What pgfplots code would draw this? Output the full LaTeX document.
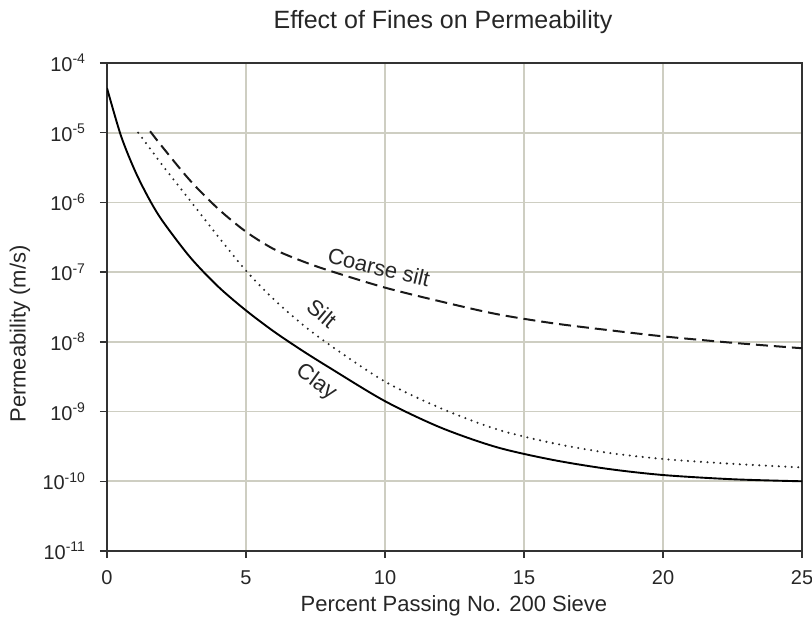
\documentclass[border=0pt]{standalone}
\usepackage{fontspec}
\setmainfont{Liberation Sans}
\usepackage{pgfplots}
\pgfplotsset{compat=1.18}
\definecolor{gridc}{RGB}{206,206,194}
\definecolor{axc}{RGB}{50,50,50}
\begin{document}
\begin{tikzpicture}
\useasboundingbox (0,0) rectangle (812bp,633bp);
\begin{axis}[at={(107bp,82bp)}, anchor=south west, scale only axis,
  width=695bp, height=488bp,
  xmin=0, xmax=25, ymode=log, ymin=1e-11, ymax=1e-4,
  xtick={0,5,10,15,20,25},
  ytick={1e-11,1e-10,1e-9,1e-8,1e-7,1e-6,1e-5,1e-4},
  yticklabels={10\textsuperscript{-11},10\textsuperscript{-10},10\textsuperscript{-9},10\textsuperscript{-8},10\textsuperscript{-7},10\textsuperscript{-6},10\textsuperscript{-5},10\textsuperscript{-4}},
  yminorticks=false,
  /pgf/number format/assume math mode=true,
  tick label style={font=\fontsize{20bp}{24bp}\selectfont, text=black!85},
  yticklabel shift=11bp,
  xticklabel shift=9bp,
  grid=major, major grid style={gridc, line width=1.6bp},
  axis line style={axc, line width=1.3bp},
  tick style={axc, line width=1.3bp},
  major tick length=7bp, tick align=outside, tick pos=left,
  clip=true]
\addplot[black, line width=1.9bp, smooth] coordinates {
(0,4.37e-5) (0.5,9.1e-6) (1,2.88e-6) (1.5,1.15e-6) (2,5.4e-7) (3,1.62e-7)
(4,6.2e-8) (5,2.82e-8) (6,1.41e-8) (7,7.6e-9) (8,4.27e-9) (10,1.41e-9)
(12,5.9e-10) (14,3.1e-10) (16,2.04e-10) (18,1.51e-10) (20,1.23e-10)
(22.5,1.07e-10) (25,1.0e-10)};
\addplot[black!85, line width=2.3bp, line cap=round, dash pattern=on 0pt off 6.5bp, smooth] coordinates {
(1.12,1.0e-5) (1.5,6.3e-6) (2,3.39e-6) (3,1.05e-6) (4,3.24e-7) (5,1.05e-7)
(6,4.07e-8) (7,1.82e-8) (8,9.1e-9) (10,2.69e-9) (12,1.12e-9) (14,5.6e-10)
(16,3.55e-10) (18,2.57e-10) (20,2.09e-10) (22.5,1.78e-10) (25,1.58e-10)};
\addplot[black!90, line width=2bp, dash pattern=on 12bp off 6bp, smooth] coordinates {
(1.55,1.05e-5) (2,6.2e-6) (3,2.04e-6) (4,8.1e-7) (5,3.8e-7) (6,2.14e-7)
(7,1.45e-7) (8,1.05e-7) (10,6.0e-8) (12,3.8e-8) (14,2.51e-8) (16,1.86e-8)
(18,1.48e-8) (20,1.2e-8) (22.5,9.7e-9) (25,8.1e-9)};
\node[rotate=-13.5, font=\fontsize{22bp}{26bp}\selectfont, text=black!85] at (axis cs:9.78,1.17e-7) {Coarse silt};
\node[rotate=-40, font=\fontsize{22bp}{26bp}\selectfont, text=black!85] at (axis cs:7.73,2.57e-8) {Silt};
\node[rotate=-36, font=\fontsize{22bp}{26bp}\selectfont, text=black!85] at (axis cs:7.52,2.63e-9) {Clay};
\end{axis}
\node[font=\fontsize{25bp}{30bp}\selectfont, text=black!85] at (443bp,611bp) {Effect of Fines on Permeability};
\node[font=\fontsize{22bp}{26bp}\selectfont, text=black!85] at (454bp,27bp) {Percent Passing No. 200 Sieve};
\node[rotate=90, font=\fontsize{22bp}{26bp}\selectfont, text=black!85] at (20bp,299bp) {Permeability (m/s)};
\end{tikzpicture}
\end{document}
